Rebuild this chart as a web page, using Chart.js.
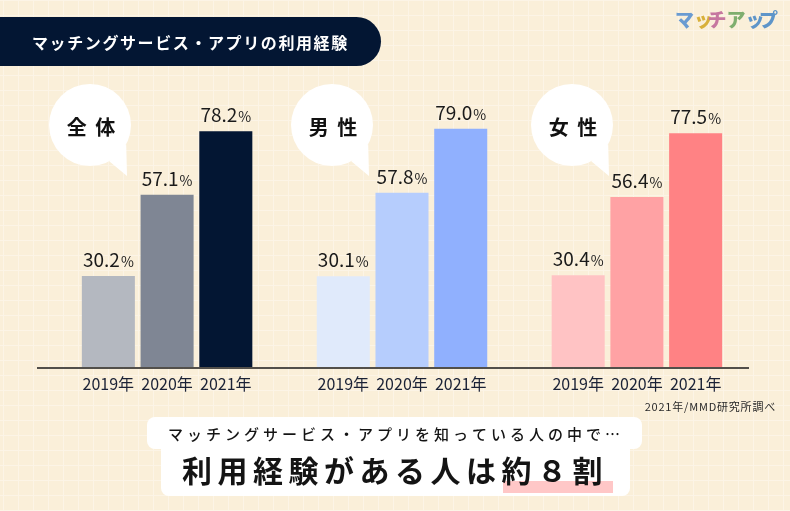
<!DOCTYPE html>
<html lang="ja">
<head>
<meta charset="UTF-8">
<title>マッチングサービス・アプリの利用経験</title>
<style>
    body { margin: 0; background: #FAEFD9; }
    #wrap { width: 790px; height: 511px; }
</style>
</head>
<body>
<div id="wrap"><canvas id="expChart" width="790" height="511"></canvas></div>
<script src="https://cdn.jsdelivr.net/npm/chart.js@4"></script>
<script>
// data
const years = ["2019年", "2020年", "2021年"];
const groupNames = ["全 体", "男 性", "女 性"];
const overall = [30.2, 57.1, 78.2];
const male = [30.1, 57.8, 79.0];
const female = [30.4, 56.4, 77.5];
const overallColors = ["#B4B8C0", "#7F8694", "#031633"];
const maleColors = ["#E0EAFB", "#B6CDFD", "#90B0FE"];
const femaleColors = ["#FFC3C4", "#FFA2A4", "#FF8284"];

const JP = '"Noto Sans CJK JP", "Noto Sans", sans-serif';

// one category axis, with an empty slot between the three groups
const labels = [...years, "", ...years, "", ...years];
const values = [...overall, null, ...male, null, ...female];
const colors = [...overallColors, "rgba(0,0,0,0)", ...maleColors, "rgba(0,0,0,0)", ...femaleColors];

function roundRect(ctx, x, y, w, h, r) {
    ctx.beginPath();
    ctx.roundRect(x, y, w, h, r);
    ctx.fill();
}

function bubble(ctx, cx, cy, r, text) {
    ctx.fillStyle = "#FFFFFF";
    ctx.beginPath();
    ctx.arc(cx, cy, r, 0, Math.PI * 2);
    ctx.fill();
    const a1 = 28 * Math.PI / 180, a2 = 62 * Math.PI / 180;
    ctx.beginPath();
    ctx.moveTo(cx + r * Math.cos(a1), cy + r * Math.sin(a1));
    ctx.lineTo(cx + 37, cy + 51);
    ctx.lineTo(cx + r * Math.cos(a2), cy + r * Math.sin(a2));
    ctx.closePath();
    ctx.fill();
    ctx.fillStyle = "#111111";
    ctx.font = "bold 20px " + JP;
    ctx.letterSpacing = "2px";
    ctx.textAlign = "center";
    ctx.textBaseline = "middle";
    ctx.fillText(text, cx + 2, cy + 2);
    ctx.letterSpacing = "0px";
}

const deco = {
    id: "deco",
    beforeDraw(chart) {
        const ctx = chart.ctx;
        const W = chart.width, H = chart.height;
        ctx.save();
        ctx.fillStyle = "#FAEFD9";
        ctx.fillRect(0, 0, W, H);
        ctx.strokeStyle = "#FCF4E6";
        ctx.lineWidth = 1;
        for (let x = 3.5; x < W; x += 15) {
            ctx.beginPath(); ctx.moveTo(x, 0); ctx.lineTo(x, H); ctx.stroke();
        }
        for (let y = 0.5; y < H; y += 15) {
            ctx.beginPath(); ctx.moveTo(0, y); ctx.lineTo(W, y); ctx.stroke();
        }

        // title pill
        ctx.fillStyle = "#031633";
        roundRect(ctx, -30, 17, 411, 49, 24.5);
        ctx.fillStyle = "#FFFFFF";
        ctx.font = "bold 16px " + JP;
        ctx.letterSpacing = "1.6px";
        ctx.textAlign = "left";
        ctx.textBaseline = "middle";
        ctx.fillText("マッチングサービス・アプリの利用経験", 32, 43);
        ctx.letterSpacing = "0px";

        // logo
        const logo = [["マ", "#6A9BD1"], ["ッ", "#D8B03A"], ["チ", "#C6779F"], ["ア", "#7FAE6E"], ["ッ", "#5E95C9"], ["プ", "#5E95C9"]];
        ctx.font = "900 19px " + JP;
        let lx = 675;
        for (const [ch, col] of logo) {
            ctx.fillStyle = col;
            ctx.fillText(ch, lx, 20);
            lx += ch === "ッ" ? 13.5 : 19;
        }

        // speech bubbles
        bubble(ctx, 90, 125, 41, groupNames[0]);
        bubble(ctx, 332, 125, 41, groupNames[1]);
        bubble(ctx, 572, 125, 41, groupNames[2]);
        ctx.restore();
    },
    afterDatasetsDraw(chart) {
        const ctx = chart.ctx;
        const meta = chart.getDatasetMeta(0);
        ctx.save();
        ctx.fillStyle = "#1A1A1A";
        ctx.textBaseline = "alphabetic";
        ctx.textAlign = "left";
        meta.data.forEach((bar, i) => {
            const v = values[i];
            if (v === null) return;
            const num = v.toFixed(1);
            ctx.font = "19px " + JP;
            const w1 = ctx.measureText(num).width;
            ctx.font = "14px " + JP;
            const w2 = ctx.measureText("%").width;
            const x0 = bar.x - (w1 + w2 + 1) / 2;
            ctx.font = "19px " + JP;
            ctx.fillText(num, x0, bar.y - 9);
            ctx.font = "14px " + JP;
            ctx.fillText("%", x0 + w1 + 1, bar.y - 9);
        });
        ctx.restore();
    },
    afterDraw(chart) {
        const ctx = chart.ctx;
        const y0 = chart.scales.y.getPixelForValue(0);
        ctx.save();
        ctx.strokeStyle = "#1A1A1A";
        ctx.lineWidth = 1.5;
        ctx.beginPath();
        ctx.moveTo(37, y0 + 1);
        ctx.lineTo(749, y0 + 1);
        ctx.stroke();

        // source
        ctx.fillStyle = "#2A2A2A";
        ctx.font = "11px " + JP;
        ctx.letterSpacing = "0.8px";
        ctx.textAlign = "right";
        ctx.textBaseline = "middle";
        ctx.fillText("2021年/MMD研究所調べ", 776, 407);

        // bottom message box
        ctx.fillStyle = "#FFFFFF";
        roundRect(ctx, 147, 417, 495, 32, 8);
        roundRect(ctx, 161, 440, 469, 56, 8);
        ctx.fillStyle = "#FFC7C7";
        ctx.fillRect(503, 481, 110, 12);

        ctx.fillStyle = "#141414";
        ctx.textAlign = "center";
        ctx.font = "500 15px " + JP;
        ctx.letterSpacing = "4px";
        ctx.fillText("マッチングサービス・アプリを知っている人の中で…", 396, 434);
        ctx.font = "bold 30px " + JP;
        ctx.letterSpacing = "5.5px";
        ctx.fillText("利用経験がある人は約８割", 395, 471);
        ctx.restore();
    }
};

new Chart(document.getElementById("expChart"), {
    type: "bar",
    data: {
        labels: labels,
        datasets: [{
            data: values,
            backgroundColor: colors,
            borderWidth: 0,
            categoryPercentage: 1,
            barPercentage: 0.903
        }]
    },
    options: {
        responsive: false,
        animation: false,
        layout: { padding: { top: 65.5, left: 79, right: 65, bottom: 114 } },
        plugins: { legend: { display: false }, tooltip: { enabled: false } },
        scales: {
            x: {
                grid: { display: false },
                border: { display: false },
                ticks: { color: "#1B2236", font: { family: JP, size: 16 }, padding: -1, maxRotation: 0, autoSkip: false },
                afterFit(scale) { scale.height = 30; }
            },
            y: { display: false, min: 0, max: 100 }
        }
    },
    plugins: [deco]
});
</script>
</body>
</html>
